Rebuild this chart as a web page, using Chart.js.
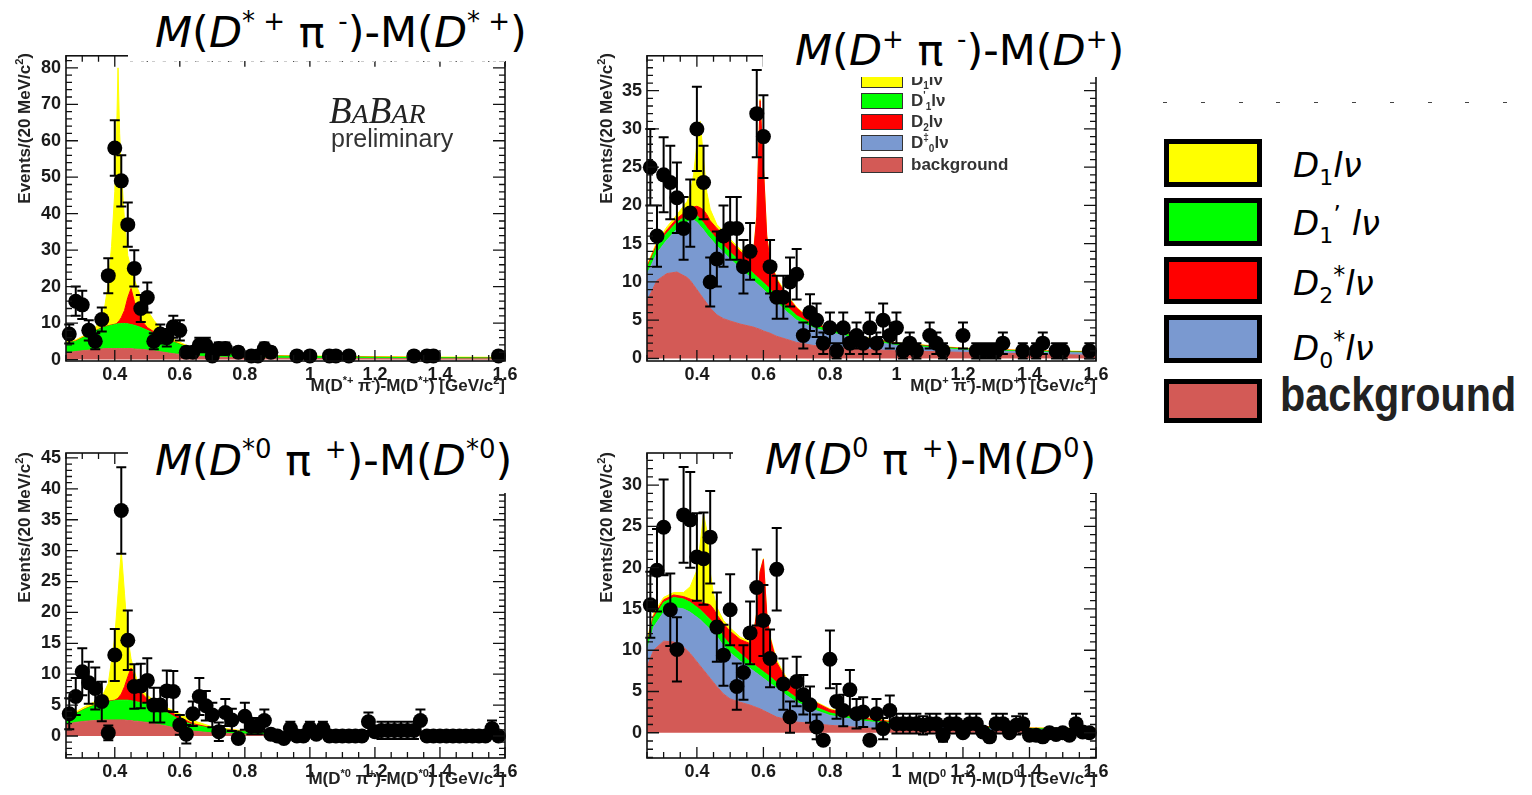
<!DOCTYPE html>
<html>
<head>
<meta charset="utf-8">
<title>D** l nu mass-difference fits</title>
<script src="https://cdn.jsdelivr.net/npm/chart.js@4.4.1/dist/chart.umd.min.js"></script>
<style>
  html, body { margin: 0; padding: 0; background: #fff; }
  body { position: relative; width: 1532px; height: 795px; overflow: hidden; }
  canvas.plot { position: absolute; filter: blur(0.45px); }
  .abs { position: absolute; white-space: nowrap; }
  .soft { filter: blur(0.45px); }
  .ytitle { width: 220px; height: 20px; line-height: 20px; text-align: right;
            transform-origin: 0 0; transform: rotate(-90deg);
            font: bold 17px "Liberation Sans", Arial, sans-serif; color: #222; }
  .xtitle { font: bold 17px "Liberation Sans", Arial, sans-serif; color: #222; line-height: 18px; }
  .ytitle sup, .xtitle sup { font-size: 11px; vertical-align: 7px; line-height: 0; }
  .cover { position: absolute; background: #fff; }
  .big { font-family: "DejaVu Sans", sans-serif; font-size: 43px; line-height: 42px; color: #000; }
  .big sup { font-size: 26px; vertical-align: 17px; line-height: 0; }
  .inleg { display: flex; align-items: center; height: 16px; }
  .inleg .sw { width: 42px; height: 16px; border: 1.5px solid #333; box-sizing: border-box; margin-right: 8px; }
  .inleg .lb { font: bold 17px "Liberation Sans", Arial, sans-serif; color: #333; }
  .inleg sub, .inleg sup { font-size: 10px; line-height: 0; }
  .legbox { position: absolute; left: 1164px; width: 98px; border: 5px solid #000; box-sizing: border-box; }
  .leglab { font-family: "DejaVu Sans", sans-serif; font-style: italic; font-size: 34px; line-height: 34px; color: #000; }
  .leglab sub { font-style: normal; font-size: 22px; vertical-align: -8px; line-height: 0; }
  .leglab sup { font-style: normal; font-size: 24px; vertical-align: 12px; line-height: 0; }
</style>
</head>
<body>

<canvas id="p1" class="plot" width="525" height="360" style="left:0px;top:40px"></canvas>
<canvas id="p2" class="plot" width="535" height="360" style="left:580px;top:40px"></canvas>
<canvas id="p3" class="plot" width="525" height="365" style="left:0px;top:430px"></canvas>
<canvas id="p4" class="plot" width="535" height="365" style="left:580px;top:430px"></canvas>

<!-- axis titles -->
<div class="abs ytitle soft" style="left:15px;top:273px">Events/(20 MeV/c<sup>2</sup>)</div>
<div class="abs ytitle soft" style="left:597px;top:273px">Events/(20 MeV/c<sup>2</sup>)</div>
<div class="abs ytitle soft" style="left:15px;top:672px">Events/(20 MeV/c<sup>2</sup>)</div>
<div class="abs ytitle soft" style="left:597px;top:672px">Events/(20 MeV/c<sup>2</sup>)</div>

<div class="abs xtitle soft" style="right:1027px;top:377px">M(D<sup>*+</sup> π<sup>-</sup>)-M(D<sup>*+</sup>) [GeV/c<sup>2</sup>]</div>
<div class="abs xtitle soft" style="right:436px;top:377px">M(D<sup>+</sup> π<sup>-</sup>)-M(D<sup>+</sup>) [GeV/c<sup>2</sup>]</div>
<div class="abs xtitle soft" style="right:1027px;top:770px">M(D<sup>*0</sup> π<sup>+</sup>)-M(D<sup>*0</sup>) [GeV/c<sup>2</sup>]</div>
<div class="abs xtitle soft" style="right:436px;top:770px">M(D<sup>0</sup> π<sup>+</sup>)-M(D<sup>0</sup>) [GeV/c<sup>2</sup>]</div>

<!-- experiment label -->
<div class="abs soft" style="left:329px;top:92px;font-family:'Liberation Serif',serif;font-style:italic;color:#222;line-height:38px">
  <span style="font-size:37px">B</span><span style="font-size:28px">A</span><span style="font-size:37px">B</span><span style="font-size:28px">AR</span>
</div>
<div class="abs soft" style="left:331px;top:124px;font:25px 'Liberation Sans',Arial,sans-serif;color:#333;line-height:28px">preliminary</div>

<!-- legend inside the D+ pi- panel -->
<div class="abs inleg soft" style="left:861px;top:72px"><span class="sw" style="background:#ffff00"></span><span class="lb">D<sub>1</sub>lν</span></div>
<div class="abs inleg soft" style="left:861px;top:93px"><span class="sw" style="background:#00ff00"></span><span class="lb">D<sup>'</sup><sub>1</sub>lν</span></div>
<div class="abs inleg soft" style="left:861px;top:114px"><span class="sw" style="background:#ff0000"></span><span class="lb">D<sub>2</sub>lν</span></div>
<div class="abs inleg soft" style="left:861px;top:135px"><span class="sw" style="background:#7a99d0"></span><span class="lb">D<sup>‡</sup><sub>0</sub>lν</span></div>
<div class="abs inleg soft" style="left:861px;top:157px"><span class="sw" style="background:#d35a56"></span><span class="lb">background</span></div>

<!-- white boxes behind the panel titles -->
<div class="cover" style="left:128px;top:0px;width:402px;height:61px"></div>
<div class="cover" style="left:763px;top:18px;width:372px;height:59px"></div>
<div class="cover" style="left:128px;top:430px;width:402px;height:63px"></div>
<div class="cover" style="left:733px;top:430px;width:372px;height:63px"></div>
<div class="abs" style="left:130px;top:61px;width:375px;height:1px;background:repeating-linear-gradient(90deg,#ccc 0 3px,transparent 3px 11px)"></div>

<div class="abs big" style="left:155px;top:11px"><i>M</i>(<i>D</i><sup>* +</sup> π <sup>-</sup>)-M(<i>D</i><sup>* +</sup>)</div>
<div class="abs big" style="left:795px;top:29px"><i>M</i>(<i>D</i><sup>+</sup> π <sup>-</sup>)-M(<i>D</i><sup>+</sup>)</div>
<div class="abs big" style="left:155px;top:439px"><i>M</i>(<i>D</i><sup>*0</sup> π <sup>+</sup>)-M(<i>D</i><sup>*0</sup>)</div>
<div class="abs big" style="left:765px;top:438px"><i>M</i>(<i>D</i><sup>0</sup> π <sup>+</sup>)-M(<i>D</i><sup>0</sup>)</div>

<!-- shared legend -->
<div class="abs" style="left:1163px;top:102px;width:350px;height:1px;background:repeating-linear-gradient(90deg,#444 0 4px,transparent 4px 37.8px)"></div>
<div class="legbox" style="top:139px;height:48px;background:#ffff00"></div>
<div class="legbox" style="top:198px;height:48px;background:#00ff00"></div>
<div class="legbox" style="top:257px;height:47px;background:#ff0000"></div>
<div class="legbox" style="top:315px;height:48px;background:#7a99d0"></div>
<div class="legbox" style="top:379px;height:44px;background:#d35a56"></div>
<div class="abs leglab" style="left:1293px;top:148px">D<sub>1</sub>lν</div>
<div class="abs leglab" style="left:1293px;top:206px">D<sub>1</sub><sup>’</sup> lν</div>
<div class="abs leglab" style="left:1293px;top:266px">D<sub>2</sub><sup>*</sup>lν</div>
<div class="abs leglab" style="left:1293px;top:331px">D<sub>0</sub><sup>*</sup>lν</div>
<div class="abs" style="left:1280px;top:371px;font:bold 48px 'Liberation Sans',Arial,sans-serif;color:#222;line-height:48px;transform-origin:0 0;transform:scaleX(0.86)">background</div>

<script>
// ---- data -------------------------------------------------------------

const xTickVals = [0.4, 0.6, 0.8, 1, 1.2, 1.4, 1.6];

// 20 MeV bin centres
const binCentres = [0.26,0.28,0.30,0.32,0.34,0.36,0.38,0.40,0.42,0.44,0.46,0.48,0.50,0.52,0.54,0.56,0.58,0.60,0.62,0.64,
  0.66,0.68,0.70,0.72,0.74,0.76,0.78,0.80,0.82,0.84,0.86,0.88,0.90,0.92,0.94,0.96,0.98,1.00,1.02,1.04,
  1.06,1.08,1.10,1.12,1.14,1.16,1.18,1.20,1.22,1.24,1.26,1.28,1.30,1.32,1.34,1.36,1.38,1.40,1.42,1.44,
  1.46,1.48,1.50,1.52,1.54,1.56,1.58];

// fit layers are stored as running totals: bg, +D0*, +D1', +D2*, +D1

// --- D*+ pi- ---
const p1X = [0.26,0.28,0.30,0.32,0.34,0.36,0.38,0.40,0.42,0.44,0.46,0.48,0.50,0.52,0.54,0.56,0.58,0.60,0.62,0.64,
  0.66,0.68,0.70,0.72,0.74,0.78,0.82,0.84,0.86,0.88,0.96,1.00,1.06,1.08,1.12,1.32,1.36,1.38,1.58];
const p1Y = [7,16,15,8,5,11,23,58,49,37,25,14,17,5,7,6,9,8,2,2,4,4,1,3,3,2,1,1,3,2,1,1,1,1,1,1,1,1,1];
const p1Err = [2.6,4,3.9,2.8,2.2,3.3,4.8,7.6,7,6.1,5,3.7,4.1,2.2,2.6,2.4,3,2.8,1.4,1.4,2,2,1,1.7,1.7,1.4,1,1,1.7,1.4,1,1,1,1,1,1,1,1,1];
const p1FitX = [0.25,0.28,0.31,0.34,0.36,0.37,0.38,0.39,0.40,0.405,0.41,0.415,0.42,0.43,0.44,0.45,0.46,0.47,0.48,0.50,
  0.52,0.55,0.58,0.62,0.66,0.70,0.80,0.90,1.00,1.20,1.40,1.60];
const p1Bg  = [1.8,2.2,2.5,2.8,2.9,3.0,3.0,3.0,3.0,3.0,3.0,3.0,3.0,3.0,3.0,3.0,2.9,2.85,2.8,2.6,2.4,2.0,1.6,1.2,0.9,0.7,0.45,0.35,0.3,0.25,0.2,0.2];
const p1D1p = [4.5,5.0,6.3,7.8,8.6,8.9,9.2,9.4,9.6,9.7,9.8,9.8,9.9,9.9,9.8,9.6,9.4,9.1,8.8,8.0,7.2,6.0,4.8,3.5,2.5,1.8,1.1,0.9,0.8,0.6,0.5,0.4];
const p1D2  = [4.6,5.1,6.4,7.9,8.7,9.0,9.3,9.5,9.7,9.8,10.3,10.8,11.5,13.5,17.0,19.5,16.0,13.0,11.0,8.8,7.6,6.2,4.9,3.6,2.6,1.9,1.2,0.95,0.85,0.65,0.55,0.45];
const p1D1  = [4.8,5.4,6.8,8.8,11.0,15.0,21.0,31.0,46.0,60.0,80.0,62.0,52.0,38.0,28.5,25.0,22.0,19.5,17.3,13.5,10.8,7.6,5.6,3.9,2.8,2.1,1.3,1.1,1.0,0.8,0.7,0.6];

// --- D+ pi- ---
const p2X = [0.26,0.28,0.30,0.32,0.34,0.36,0.38,0.40,0.42,0.44,0.46,0.48,0.50,0.52,0.54,0.56,0.58,0.60,0.62,0.64,
  0.66,0.68,0.70,0.72,0.74,0.76,0.78,0.80,0.82,0.84,0.86,0.88,0.90,0.92,0.94,0.96,0.98,1.00,1.02,1.04,
  1.06,1.10,1.12,1.14,1.20,1.24,1.26,1.28,1.30,1.32,1.38,1.42,1.44,1.48,1.50,1.58];
const p2Y = [25,16,24,23,21,17,19,30,23,10,13,16,17,17,12,14,32,29,12,8,8,10,11,3,6,5,2,4,1,4,2,3,2,4,2,5,3,4,1,2,
  1,3,2,1,3,1,1,1,1,2,1,1,2,1,1,1];
const p2Err = [5,4,4.9,4.8,4.6,4.1,4.4,5.5,4.8,3.2,3.6,4,4.1,4.1,3.5,3.7,5.7,5.4,3.5,2.8,
  2.8,3.2,3.3,1.7,2.4,2.2,1.4,2,1,2,1.4,1.7,1.4,2,1.4,2.2,1.7,2,1,1.4,
  1,1.7,1.4,1,1.7,1,1,1,1,1.4,1,1,1.4,1,1,1];
const p2FitX = [0.25,0.28,0.31,0.34,0.37,0.38,0.39,0.40,0.41,0.42,0.43,0.44,0.46,0.48,0.50,0.53,0.56,0.57,0.58,0.59,
  0.60,0.61,0.62,0.64,0.67,0.70,0.75,0.80,0.90,1.00,1.20,1.40,1.60];
const p2Bg  = [7.5,10.2,11.1,11.3,10.6,10.2,9.6,9.0,8.4,7.8,7.2,6.6,5.7,5.2,4.9,4.5,4.2,4.1,3.95,3.8,3.6,3.45,3.3,2.9,2.5,2.1,1.7,1.5,1.2,1.0,0.8,0.6,0.4];
const p2D0  = [11.0,13.8,15.5,16.9,17.8,18.0,18.1,17.8,17.3,16.8,16.2,15.7,14.7,13.9,13.0,11.8,10.6,10.2,9.8,9.4,9.0,8.6,8.2,7.3,6.1,5.0,4.0,3.4,2.4,1.7,1.1,0.85,0.7];
const p2D1p = [11.8,14.7,16.4,17.8,18.7,18.9,19.0,18.7,18.2,17.7,17.1,16.6,15.6,14.8,13.9,12.7,11.5,11.1,10.7,10.3,9.9,9.5,9.1,8.1,6.8,5.6,4.4,3.7,2.6,1.9,1.25,0.95,0.8];
const p2D2  = [12.0,15.0,16.8,18.3,19.3,19.6,19.8,19.9,19.7,19.4,18.8,18.0,17.0,16.2,15.3,14.0,13.0,13.6,18.5,33.7,25.0,16.0,12.8,10.3,8.2,6.6,4.7,3.8,2.7,2.0,1.3,1.0,0.85];
const p2D1  = [12.2,15.3,17.2,18.8,20.5,21.5,24.0,28.0,31.0,26.0,21.7,19.5,17.5,16.6,15.6,14.3,13.3,13.9,18.7,33.9,25.2,16.2,13.0,10.5,8.4,6.7,4.8,3.9,2.8,2.05,1.35,1.05,0.9];

// --- D*0 pi+ (every bin) ---
const p3Y = [3.6,6.4,10.4,8.6,7.7,5.6,0.5,13.1,36.5,15.5,8.0,8.1,9.0,5.0,5.0,7.3,7.2,1.8,0.3,3.6,
  6.4,4.9,3.4,0.7,3.8,2.6,-0.4,3.2,1.6,1.6,2.5,0.3,0,-0.4,1.2,0,0,1.2,0.3,1.2,
  0,0,0,0,0,0,2.3,0.7,0.9,0.9,0.9,0.9,0.9,0.9,2.5,0,0,0,0,0,
  0,0,0,0,0,1.2,0];
const p3Err = [2.5,3.0,3.8,3.4,3.4,3.2,1.2,4.2,7.0,4.8,3.6,3.6,3.6,2.8,2.8,3.3,3.3,1.6,1.5,2.0,
  3.0,2.4,2.0,1.5,2.2,1.8,0.6,2.2,1.3,1.3,1.8,0.6,0,0.5,1.1,0,0,1.1,0.5,1.1,
  0,0,0,0,0,0,1.5,0.8,1.4,1.4,1.4,1.4,1.4,1.4,1.8,0,0,0,0,0,
  0,0,0,0,0,1.3,0];
const p3FitX = [0.25,0.28,0.31,0.34,0.36,0.38,0.40,0.41,0.42,0.43,0.44,0.45,0.46,0.47,0.48,0.50,0.53,0.56,0.60,0.64,
  0.70,0.80,0.90,1.00,1.20,1.40,1.60];
const p3Bg  = [1.9,2.2,2.4,2.5,2.6,2.6,2.6,2.6,2.6,2.6,2.5,2.5,2.4,2.4,2.3,2.2,1.9,1.6,1.1,0.8,0.5,0.3,0.2,0.15,0.1,0.1,0.1];
const p3D1p = [2.8,3.6,4.4,5.0,5.3,5.6,5.7,5.8,5.8,5.8,5.8,5.7,5.6,5.5,5.4,5.2,4.6,3.8,2.6,1.8,1.2,0.7,0.45,0.35,0.25,0.2,0.2];
const p3D2  = [2.85,3.65,4.45,5.05,5.35,5.65,5.8,6.1,6.8,8.0,9.6,11.0,9.5,8.0,7.1,6.0,5.2,4.3,3.0,2.0,1.3,0.75,0.5,0.4,0.3,0.25,0.25];
const p3D1  = [3.0,3.9,4.8,5.6,6.3,8.5,16.0,23.0,30.0,23.0,16.0,12.5,10.5,8.8,7.8,6.6,5.4,4.6,3.6,2.5,1.5,0.8,0.55,0.45,0.35,0.3,0.3];

// --- D0 pi+ (every bin) ---
const p4Y = [15.5,19.7,24.9,14.9,10.1,26.4,25.8,21.3,21.1,23.7,12.8,9.4,14.9,5.6,7.3,12.1,17.6,13.6,9.0,19.8,
  5.9,1.9,6.2,4.6,3.4,0.7,-0.9,8.9,3.8,2.7,5.2,2.3,2.5,-0.9,2.3,0.5,2.7,1.1,1.1,1.1,
  1.1,0.9,1.1,1.1,-0.3,1.1,1.1,0,1.1,1.1,0.1,-0.5,1.1,1.1,0,0.9,1.1,-0.3,-0.3,-0.5,
  0,-0.2,0,-0.3,1.1,0.1,0];
const p4Err = [4.0,5.0,5.8,4.4,3.9,5.8,5.8,5.3,5.6,5.6,4.2,3.7,4.3,2.8,3.3,3.8,4.6,4.3,3.5,5.0,
  3.1,1.9,3.0,2.4,2.2,1.5,0.4,3.5,2.1,1.9,2.4,1.8,1.8,0.4,1.8,1.3,1.8,1.2,1.2,1.2,
  1.2,1.1,1.2,1.2,0.8,1.2,1.2,0,1.2,1.2,0.3,0.5,1.2,1.2,0,1.1,1.2,0.3,0.3,0.5,
  0,0.2,0,0.3,1.2,0.3,0];
const p4FitX = [0.25,0.27,0.30,0.33,0.36,0.38,0.40,0.41,0.42,0.43,0.44,0.45,0.46,0.48,0.50,0.53,0.56,0.57,0.58,0.59,
  0.60,0.61,0.62,0.64,0.67,0.70,0.75,0.80,0.90,1.00,1.20,1.40,1.60];
const p4Bg  = [8.0,10.0,11.1,11.0,10.4,9.6,8.6,8.1,7.6,7.1,6.6,6.1,5.6,4.7,4.1,3.7,3.35,3.2,3.05,2.9,2.7,2.5,2.3,1.9,1.6,1.3,1.1,0.9,0.6,0.4,0.25,0.15,0.1];
const p4D0  = [10.0,12.8,14.6,15.2,15.0,14.6,14.0,13.7,13.3,12.9,12.5,12.1,11.7,10.5,9.7,8.7,7.8,7.5,7.2,6.9,6.6,6.3,6.0,5.4,4.5,3.7,2.8,2.1,1.4,1.0,0.6,0.4,0.3];
const p4D1p = [10.8,13.9,15.8,16.4,16.2,15.8,15.2,14.9,14.5,14.1,13.7,13.3,12.9,11.6,10.7,9.6,8.6,8.3,8.0,7.7,7.4,7.1,6.8,6.1,5.1,4.2,3.2,2.4,1.6,1.15,0.7,0.5,0.4];
const p4D2  = [11.0,14.2,16.1,16.7,16.5,16.2,15.9,15.8,15.7,15.6,15.5,15.0,14.3,13.2,12.3,11.3,10.8,11.8,14.5,19.5,21.0,14.5,11.5,8.5,6.4,5.1,3.8,2.8,1.8,1.25,0.8,0.55,0.45];
const p4D1  = [11.2,14.5,16.4,17.0,17.0,17.7,19.7,22.9,26.5,24.5,19.5,16.8,15.2,13.6,12.7,11.6,11.0,12.0,14.6,19.6,21.1,14.6,11.7,8.8,6.6,5.2,3.9,2.9,1.9,1.3,0.85,0.6,0.5];

const colours = { bg: '#d35a56', d0: '#7a99d0', d1p: '#00ff00', d2: '#ff0000', d1: '#ffff00' };

// ---- drawing helpers --------------------------------------------------

const tickFont = { family: '"Liberation Sans", Arial, sans-serif', size: 18, weight: 'bold' };

// error bars under the data markers
const errorBars = {
    id: 'errorBars',
    beforeDatasetDraw(chart, args) {
        const ds = chart.data.datasets[args.index];
        if (!ds.errors) return;
        const { ctx, scales: { x, y } } = chart;
        ctx.save();
        ctx.strokeStyle = '#000';
        ctx.lineWidth = 2;
        ctx.beginPath();
        ds.data.forEach((p, i) => {
            const e = ds.errors[i];
            if (!e) return;
            const px = x.getPixelForValue(p.x);
            const top = y.getPixelForValue(p.y + e);
            const bot = y.getPixelForValue(p.y - e);
            ctx.moveTo(px, top); ctx.lineTo(px, bot);
            ctx.moveTo(px - 5, top); ctx.lineTo(px + 5, top);
            ctx.moveTo(px - 5, bot); ctx.lineTo(px + 5, bot);
        });
        ctx.stroke();
        ctx.restore();
    }
};

// box frame with inward ticks on all four sides
const frameTicks = {
    id: 'frameTicks',
    afterDraw(chart, args, o) {
        const { ctx, chartArea: a, scales: { x, y } } = chart;
        ctx.save();
        ctx.strokeStyle = '#111';
        ctx.lineWidth = 1.6;
        ctx.strokeRect(a.left, a.top, a.right - a.left, a.bottom - a.top);
        ctx.lineWidth = 1.3;
        ctx.beginPath();
        for (let k = 0; k <= 27; k++) {
            const v = 0.25 + k * 0.05;
            const px = x.getPixelForValue(v);
            const major = (k - 3) % 4 === 0;
            const len = major ? 11 : 6;
            ctx.moveTo(px, a.bottom); ctx.lineTo(px, a.bottom - len);
            ctx.moveTo(px, a.top); ctx.lineTo(px, a.top + len);
        }
        const first = Math.ceil(y.min / o.minor);
        const last = Math.floor(y.max / o.minor);
        for (let k = first; k <= last; k++) {
            const v = k * o.minor;
            const py = y.getPixelForValue(v);
            const len = (k * o.minor) % o.major === 0 ? 12 : 6;
            ctx.moveTo(a.left, py); ctx.lineTo(a.left + len, py);
            ctx.moveTo(a.right, py); ctx.lineTo(a.right - len, py);
        }
        ctx.stroke();
        ctx.restore();
    }
};

function buildPanel(canvasId, p) {
    const datasets = [{
        data: p.pointX.map((x, i) => ({ x, y: p.pointY[i] })),
        errors: p.pointErr,
        showLine: false,
        pointRadius: 7.5,
        pointHoverRadius: 7.5,
        pointBackgroundColor: '#000',
        pointBorderWidth: 0,
        clip: false
    }];

    p.layers.forEach((layer, i) => {
        datasets.push({
            data: p.fitX.map((x, k) => ({ x, y: layer.values[k] })),
            borderColor: layer.colour,
            backgroundColor: layer.colour,
            borderWidth: 1,
            pointRadius: 0,
            tension: 0,
            fill: i === 0 ? 'origin' : '-1'
        });
    });

    return new Chart(document.getElementById(canvasId), {
        type: 'line',
        data: { datasets },
        options: {
            responsive: false,
            animation: false,
            events: [],
            layout: { padding: { top: p.padTop, right: p.padRight, left: 0, bottom: 0 } },
            plugins: {
                legend: { display: false },
                tooltip: { enabled: false },
                frameTicks: { minor: p.yMinor, major: p.yMajor }
            },
            scales: {
                x: {
                    type: 'linear',
                    min: 0.25,
                    max: 1.6,
                    grid: { display: false, drawTicks: false },
                    border: { display: false },
                    afterBuildTicks: s => { s.ticks = xTickVals.map(v => ({ value: v })); },
                    afterFit: s => { s.height = p.xAxisHeight; },
                    ticks: { font: tickFont, color: '#1a1a1a', padding: 3, maxRotation: 0, autoSkip: false,
                             callback: v => String(v) }
                },
                y: {
                    type: 'linear',
                    min: p.yMin,
                    max: p.yMax,
                    grid: { display: false, drawTicks: false },
                    border: { display: false },
                    afterBuildTicks: s => { s.ticks = p.yTicks.map(v => ({ value: v })); },
                    afterFit: s => { s.width = p.yAxisWidth; },
                    ticks: { font: tickFont, color: '#1a1a1a', padding: 5, autoSkip: false,
                             callback: v => String(v) }
                }
            }
        },
        plugins: [errorBars, frameTicks]
    });
}

// ---- panels -----------------------------------------------------------

buildPanel('p1', {
    pointX: p1X, pointY: p1Y, pointErr: p1Err, fitX: p1FitX,
    layers: [
        { values: p1Bg, colour: colours.bg },
        { values: p1D1p, colour: colours.d1p },
        { values: p1D2, colour: colours.d2 },
        { values: p1D1, colour: colours.d1 }
    ],
    yMin: -0.4, yMax: 83.3, yTicks: [0, 10, 20, 30, 40, 50, 60, 70, 80], yMinor: 2, yMajor: 10,
    padTop: 15, padRight: 20, yAxisWidth: 66, xAxisHeight: 39
});

buildPanel('p2', {
    pointX: p2X, pointY: p2Y, pointErr: p2Err, fitX: p2FitX,
    layers: [
        { values: p2Bg, colour: colours.bg },
        { values: p2D0, colour: colours.d0 },
        { values: p2D1p, colour: colours.d1p },
        { values: p2D2, colour: colours.d2 },
        { values: p2D1, colour: colours.d1 }
    ],
    yMin: -0.33, yMax: 39.56, yTicks: [0, 5, 10, 15, 20, 25, 30, 35], yMinor: 1, yMajor: 5,
    padTop: 15, padRight: 19, yAxisWidth: 67, xAxisHeight: 39
});

buildPanel('p3', {
    pointX: binCentres, pointY: p3Y, pointErr: p3Err, fitX: p3FitX,
    layers: [
        { values: p3Bg, colour: colours.bg },
        { values: p3D1p, colour: colours.d1p },
        { values: p3D2, colour: colours.d2 },
        { values: p3D1, colour: colours.d1 }
    ],
    yMin: -3.56, yMax: 45.8, yTicks: [0, 5, 10, 15, 20, 25, 30, 35, 40, 45], yMinor: 1, yMajor: 5,
    padTop: 23, padRight: 20, yAxisWidth: 66, xAxisHeight: 37
});

buildPanel('p4', {
    pointX: binCentres, pointY: p4Y, pointErr: p4Err, fitX: p4FitX,
    layers: [
        { values: p4Bg, colour: colours.bg },
        { values: p4D0, colour: colours.d0 },
        { values: p4D1p, colour: colours.d1p },
        { values: p4D2, colour: colours.d2 },
        { values: p4D1, colour: colours.d1 }
    ],
    yMin: -3.06, yMax: 33.9, yTicks: [0, 5, 10, 15, 20, 25, 30], yMinor: 1, yMajor: 5,
    padTop: 23, padRight: 19, yAxisWidth: 67, xAxisHeight: 37
});
</script>
</body>
</html>
